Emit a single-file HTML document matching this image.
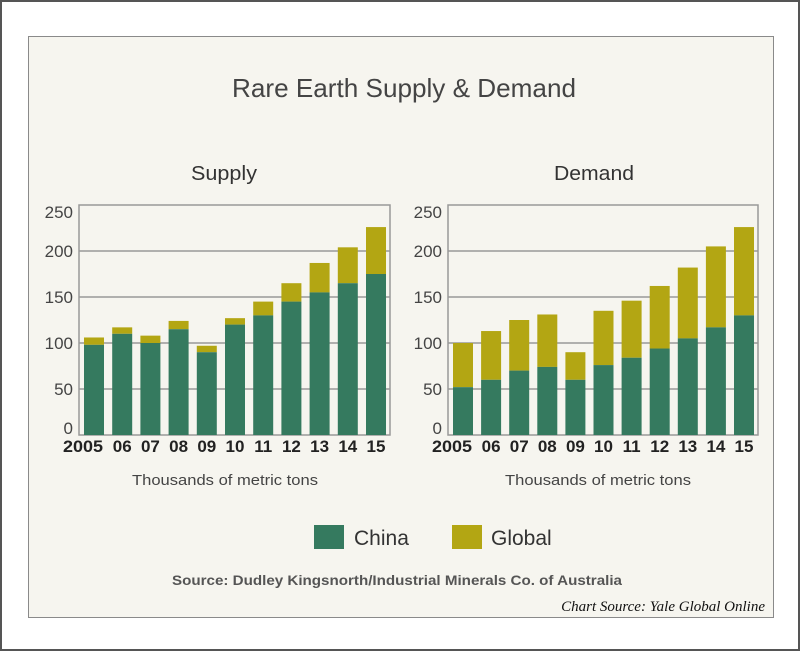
<!DOCTYPE html>
<html><head><meta charset="utf-8"><style>
html,body{margin:0;padding:0;background:#fff}
svg{display:block}
text{font-family:"Liberation Sans",sans-serif}
</style></head><body>
<svg width="800" height="651" viewBox="0 0 800 651">
<rect x="1" y="1" width="798" height="649" fill="#fff" stroke="#555" stroke-width="2"/>
<rect x="28.5" y="36.5" width="745" height="581" fill="#f6f5ef" stroke="#8a8a8a" stroke-width="1"/>
<text x="404" y="97" text-anchor="middle" font-size="26" fill="#444" textLength="344" lengthAdjust="spacingAndGlyphs">Rare Earth Supply &amp; Demand</text>
<text x="224" y="180" text-anchor="middle" font-size="20" fill="#333" textLength="66" lengthAdjust="spacingAndGlyphs">Supply</text>
<text x="594" y="180" text-anchor="middle" font-size="20" fill="#333" textLength="80" lengthAdjust="spacingAndGlyphs">Demand</text>
<g id="supply"></g>
<g id="demand"></g>
<text x="225" y="485" text-anchor="middle" font-size="15" fill="#444" textLength="186" lengthAdjust="spacingAndGlyphs">Thousands of metric tons</text>
<text x="598" y="485" text-anchor="middle" font-size="15" fill="#444" textLength="186" lengthAdjust="spacingAndGlyphs">Thousands of metric tons</text>
<rect x="314" y="525" width="30" height="24" fill="#357a5f"/>
<text x="354" y="545" font-size="21" fill="#333">China</text>
<rect x="452" y="525" width="30" height="24" fill="#b3a613"/>
<text x="491" y="545" font-size="21" fill="#333">Global</text>
<text x="397" y="585" text-anchor="middle" font-size="14" font-weight="bold" fill="#555" textLength="450" lengthAdjust="spacingAndGlyphs">Source: Dudley Kingsnorth/Industrial Minerals Co. of Australia</text>
<text x="765" y="611" text-anchor="end" font-size="15" font-style="italic" fill="#111" style="font-family:'Liberation Serif',serif">Chart Source: Yale Global Online</text>
</svg>
<script>
const years = ["2005","06","07","08","09","10","11","12","13","14","15"];
const yTicks = [0,50,100,150,200,250];
const supplyChina = [98,110,100,115,90,120,130,145,155,165,175];
const supplyTotal = [106,117,108,124,97,127,145,165,187,204,226];
const demandChina = [52,60,70,74,60,76,84,94,105,117,130];
const demandTotal = [100,113,125,131,90,135,146,162,182,205,226];
const NS="http://www.w3.org/2000/svg";
function mk(tag,attrs,parent){const e=document.createElementNS(NS,tag);for(const k in attrs)e.setAttribute(k,attrs[k]);parent.appendChild(e);return e;}
function draw(gid,left,right,china,total,name){
  const g=document.getElementById(gid);
  const top=205,bottom=435,max=250;
  const y=v=>bottom-(v/max)*(bottom-top);
  const firstX=left+5,lastX=right-24,bw=20;
  const x=i=>firstX+i*(lastX-firstX)/(years.length-1);
  yTicks.forEach(t=>{
    if(t>0&&t<max){const l=mk('line',{x1:left,x2:right,y1:y(t),y2:y(t),stroke:'#999','stroke-width':1.5},g);
    
    }
    let by=y(t)+6;
    if(t===0) by=y(t)-1;
    if(t===max) by=y(t)+13;
    const tx=mk('text',{x:left-6,y:by,'text-anchor':'end','font-size':17,fill:'#444'},g);
    tx.textContent=t;
    
    
  });
  const fr=mk('rect',{x:left,y:top,width:right-left,height:bottom-top,fill:'none',stroke:'#999','stroke-width':1.5},g);
  
  
  years.forEach((yr,i)=>{
    const gb=mk('rect',{x:x(i),y:y(total[i]),width:bw,height:y(china[i])-y(total[i]),fill:'#b3a613'},g);
    
    
    const cb=mk('rect',{x:x(i),y:y(china[i]),width:bw,height:bottom-y(china[i]),fill:'#357a5f'},g);
    
    
    let lt;
    if(i===0){
      lt=mk('text',{x:left-16,y:452,'font-size':17,'font-weight':'bold',fill:'#222',textLength:40,lengthAdjust:'spacingAndGlyphs'},g);
    } else {
      lt=mk('text',{x:x(i)+bw/2,y:452,'text-anchor':'middle','font-size':17,'font-weight':'bold',fill:'#222'},g);
    }
    lt.textContent=yr;
    
    
  });
}
draw('supply',79,390,supplyChina,supplyTotal,'supply');
draw('demand',448,758,demandChina,demandTotal,'demand');
</script>
</body></html>
